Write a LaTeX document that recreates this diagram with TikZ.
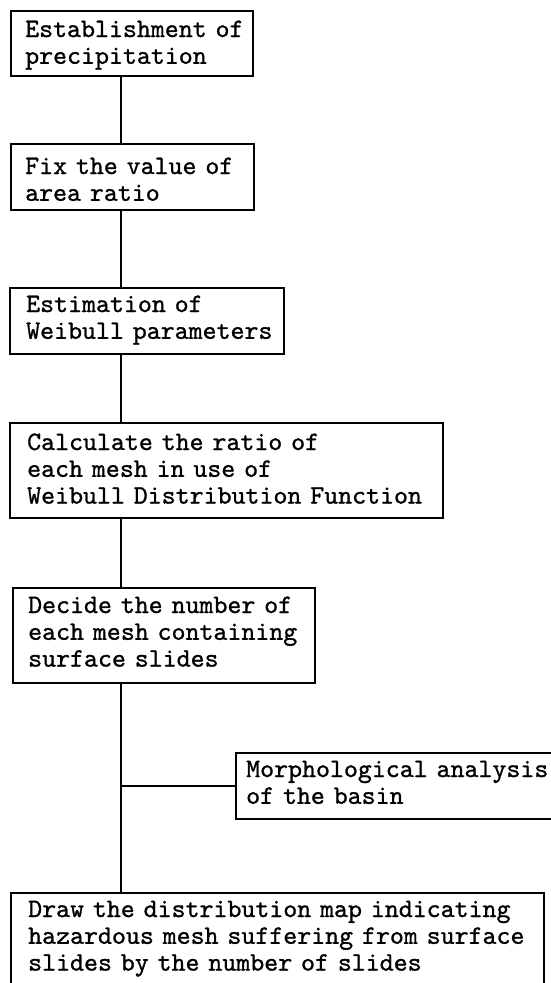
\documentclass[tikz,border=0pt]{standalone}
\usepackage{fontspec}
\setmonofont{lmmono10-regular}[Extension=.otf, FakeBold=1.0]
\begin{document}
\begin{tikzpicture}[x=1pt,y=-1pt,
  stepbox/.style={draw, line width=1.6pt, rectangle, inner sep=0pt, anchor=north west},
  steptext/.style={anchor=base west, inner sep=0pt, align=left, text width=530pt,
    font=\ttfamily\fontsize{26.6}{26.8}\selectfont},
  link/.style={line width=1.6pt}]
\useasboundingbox (0,0) rectangle (551,983);
\clip (0,0) rectangle (551,983);
\fill[white] (0,0) rectangle (551,983);

% vertical spine of the flow
\coordinate (spine) at (121,0);

% process boxes
\node[stepbox, minimum width=242pt, minimum height=65pt] (b1) at (10,10) {};
\node[stepbox, minimum width=243pt, minimum height=66pt] (b2) at (10,143) {};
\node[stepbox, minimum width=274pt, minimum height=66pt] (b3) at (9,287) {};
\node[stepbox, minimum width=433pt, minimum height=95pt] (b4) at (9,422) {};
\node[stepbox, minimum width=302pt, minimum height=95pt] (b5) at (12,587) {};
\node[stepbox, minimum width=330pt, minimum height=66pt] (b6) at (235,752) {};
\node[stepbox, minimum width=533pt, minimum height=100pt] (b7) at (10,892) {};

% box texts
\node[steptext] (t1) at ([shift={(15,27)}]b1.north west) {Establishment of\\precipitation};
\node[steptext] (t2) at ([shift={(15,31)}]b2.north west) {Fix the value of\\area ratio};
\node[steptext] (t3) at ([shift={(17,25)}]b3.north west) {Estimation of\\Weibull parameters};
\node[steptext] (t4) at ([shift={(18,28)}]b4.north west) {Calculate the ratio of\\each mesh in use of\\Weibull Distribution Function};
\node[steptext] (t5) at ([shift={(16,26)}]b5.north west) {Decide the number of\\each mesh containing\\surface slides};
\node[steptext] (t6) at ([shift={(11,25)}]b6.north west) {Morphological analysis\\of the basin};
\node[steptext] (t7) at ([shift={(18,25)}]b7.north west) {Draw the distribution map indicating\\hazardous mesh suffering from surface\\slides by the number of slides};

% connectors
\draw[link] (b1.south -| spine) -- (b2.north -| spine);
\draw[link] (b2.south -| spine) -- (b3.north -| spine);
\draw[link] (b3.south -| spine) -- (b4.north -| spine);
\draw[link] (b4.south -| spine) -- (b5.north -| spine);
\draw[link] (b5.south -| spine) -- (b7.north -| spine);
\draw[link] (b6.west -| spine) -- (b6.west);
\end{tikzpicture}
\end{document}
